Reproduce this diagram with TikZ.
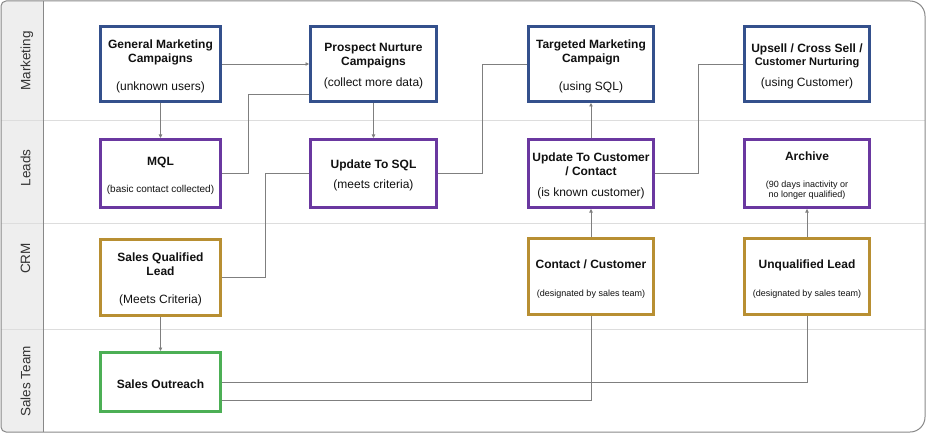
\documentclass[tikz,border=0pt]{standalone}
\usepackage{fontspec}
\setmainfont{Liberation Sans}
\usetikzlibrary{arrows.meta}
\definecolor{cblue}{HTML}{34508C}
\definecolor{cpurple}{HTML}{6A38A0}
\definecolor{cgold}{HTML}{B88F32}
\definecolor{cgreen}{HTML}{4CAF55}
\definecolor{cline}{HTML}{7F7F7F}
\definecolor{cframe}{HTML}{888888}
\definecolor{clane}{HTML}{EEEEEE}
\definecolor{csep}{HTML}{DDDDDD}
\definecolor{ctext}{HTML}{111111}
\definecolor{clabel}{HTML}{333333}
\newcommand\hd[1]{\textbf{#1}}
\newcommand\dn{\mbox{}\\[-1pt]}
\begin{document}
\begin{tikzpicture}[x=1pt,y=-1pt,
  box/.style={draw, line width=3pt, fill=white, align=center, inner sep=0pt,
    text=ctext, font=\fontsize{12}{14}\selectfont},
  bluebox/.style={box, draw=cblue},
  purplebox/.style={box, draw=cpurple},
  goldbox/.style={box, draw=cgold},
  greenbox/.style={box, draw=cgreen},
  colA/.style={minimum width=120pt},
  colB/.style={minimum width=126pt},
  colC/.style={minimum width=125pt},
  lanelabel/.style={rotate=90, anchor=base, text=clabel, inner sep=0pt,
    font=\fontsize{13.5}{16}\selectfont},
  conn/.style={draw=cline, line width=0.8pt},
  arr/.style={conn, -{Triangle[length=3.5pt,width=3.5pt]}}
]
\useasboundingbox (0,0) rectangle (926,433);
% lane column
\fill[clane, rounded corners=5pt] (1,1) rectangle (43,432);
\fill[clane] (20,1) rectangle (43,432);
% lane separators
\foreach \yy in {121,223.3,329} \draw[csep, line width=1pt] (1,\yy) -- (925,\yy);
\draw[cframe, line width=1pt] (43,1) -- (43,432);
% outer frame
\draw[cframe, line width=1pt] (1,200) [rounded corners=5pt] -- (1,1) -- (400,1)
  [rounded corners=15pt] -- (925,1) -- (925,432) -- (400,432)
  [rounded corners=5pt] -- (1,432) -- (1,200);
% lane labels
\node[lanelabel] (lmk) at (30.5,61) {Marketing};
\node[lanelabel] (lld) at (30.5,168) {Leads};
\node[lanelabel] (lcrm) at (30,258.5) {CRM};
\node[lanelabel] (lst) at (30.5,381.5) {Sales Team};

% Marketing row
\node[bluebox, colA, minimum height=75pt] (gmc) at (160.5,64)
  {\dn\hd{General Marketing}\\\hd{Campaigns}\\[14pt](unknown users)};
\node[bluebox, colB, minimum height=75pt] (pnc) at (373.5,64)
  {\dn\hd{Prospect Nurture}\\\hd{Campaigns}\\[7pt](collect more data)};
\node[bluebox, colC, minimum height=75pt] (tmc) at (591,64)
  {\dn\hd{Targeted Marketing}\\\hd{Campaign}\\[14pt](using SQL)};
\node[bluebox, colC, minimum height=75pt] (ups) at (807,64)
  {\dn\hd{Upsell / Cross Sell /}\\[-0.6pt]{\fontsize{11}{13}\selectfont\hd{Customer Nurturing}}\\[7pt](using Customer)};

% Leads row
\node[purplebox, colA, minimum height=68pt] (mql) at (160.5,173.5)
  {\dn\hd{MQL}\\[13pt]{\fontsize{10}{12}\selectfont (basic contact collected)}};
\node[purplebox, colB, minimum height=68pt] (usql) at (373.5,173.5)
  {\dn\hd{Update To SQL}\\[6pt](meets criteria)};
\node[purplebox, colC, minimum height=68pt] (ucc) at (591,173.5)
  {\dn\hd{Update To Customer}\\\hd{/ Contact}\\[7pt](is known customer)};
\node[purplebox, colC, minimum height=68pt] (arc) at (807,173.5)
  {\dn\hd{Archive}\\[13pt]{\fontsize{9}{10}\selectfont (90 days inactivity or}\\[-3.3pt]{\fontsize{9}{10}\selectfont no longer qualified)}};

% CRM row
\node[goldbox, colA, minimum height=76pt] (sql) at (160.5,277)
  {\dn\hd{Sales Qualified}\\\hd{Lead}\\[14pt](Meets Criteria)};
\node[goldbox, colC, minimum height=76pt] (cc) at (591,276.5)
  {\dn\hd{Contact / Customer}\\[14pt]{\fontsize{9}{10}\selectfont (designated by sales team)}};
\node[goldbox, colC, minimum height=76pt] (unq) at (807,276.5)
  {\dn\hd{Unqualified Lead}\\[14pt]{\fontsize{9}{10}\selectfont (designated by sales team)}};

% Sales team row
\node[greenbox, colA, minimum height=59pt] (out) at (160.5,382)
  {\dn\hd{Sales Outreach}};

% connectors
\draw[arr] (gmc.east) -- (pnc.west);
\draw[arr] (gmc.south) -- (mql.north);
\coordinate (c1) at (248,94);
\draw[conn] (mql.east) -| (c1) -- (c1 -| pnc.west);
\draw[arr] (pnc.south) -- (usql.north);
\coordinate (c2) at (265,173.5);
\draw[conn] (sql.east) -| (c2) -- (usql.west);
\coordinate (c3) at (482,64);
\draw[conn] (usql.east) -| (c3) -- (tmc.west);
\draw[arr] (ucc.north) -- (tmc.south);
\coordinate (c4) at (698,64);
\draw[conn] (ucc.east) -| (c4) -- (ups.west);
\draw[arr] (cc.north) -- (ucc.south);
\draw[arr] (unq.north) -- (arc.south);
\draw[arr] (sql.south) -- (out.north);
\draw[conn] (out.east) -| (unq.south);
\draw[conn] ([yshift=-18pt]out.east) -| (cc.south);
\end{tikzpicture}
\end{document}
